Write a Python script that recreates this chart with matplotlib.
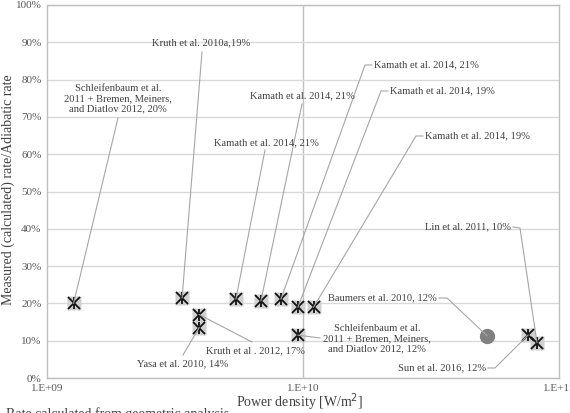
import matplotlib
matplotlib.use("Agg")
import matplotlib.pyplot as plt
from matplotlib.ticker import FixedLocator, FixedFormatter

# ---- data ----
power_density = [1.27e9, 3.37e9, 3.93e9, 3.93e9, 5.47e9, 6.85e9, 8.2e9,
                 9.55e9, 1.1e10, 9.55e9, 7.57e10, 8.2e10]
rate_ratio = [20.0, 21.5, 17.0, 13.5, 21.2, 20.7, 21.2, 19.0, 19.0, 11.5, 11.5, 9.5]
baumers_x = [5.24e10]
baumers_y = [11.3]

labels = [
    "Schleifenbaum et al.\n2011 + Bremen, Meiners,\nand Diatlov 2012, 20%",
    "Kruth et al. 2010a,19%",
    "Kruth et al . 2012, 17%",
    "Yasa et al. 2010, 14%",
    "Kamath et al. 2014, 21%",
    "Kamath et al. 2014, 21%",
    "Kamath et al. 2014, 21%",
    "Kamath et al. 2014, 19%",
    "Kamath et al. 2014, 19%",
    "Schleifenbaum et al.\n2011 + Bremen, Meiners,\nand Diatlov 2012, 12%",
    "Sun et al. 2016, 12%",
    "Lin et al. 2011, 10%",
]
baumers_label = "Baumers et al. 2010, 12%"

y_ticks = [0, 10, 20, 30, 40, 50, 60, 70, 80, 90, 100]
y_ticklabels = [f"{v}%" for v in y_ticks]
x_ticks = [1e9, 1e10, 1e11]
x_ticklabels = ["1.E+09", "1.E+10", "1.E+11"]

# ---- layout (figure pixels, origin top-left) ----
W, H = 570, 413
fig = plt.figure(figsize=(W / 100, H / 100), dpi=100)
L, R, T, B = 47, 559, 5, 378
ax = fig.add_axes([L / W, 1 - B / H, (R - L) / W, (B - T) / H])
ax.set_xscale("log")
ax.set_xlim(1e9, 1e11)
ax.set_ylim(0, 100)

serif = ["Liberation Serif", "DejaVu Serif"]
tc = "#404040"

ax.yaxis.set_major_locator(FixedLocator(y_ticks))
ax.yaxis.set_major_formatter(FixedFormatter(y_ticklabels))
ax.xaxis.set_major_locator(FixedLocator(x_ticks))
ax.xaxis.set_major_formatter(FixedFormatter(x_ticklabels))
ax.xaxis.set_minor_locator(FixedLocator([]))
ax.tick_params(length=0, labelsize=8, labelcolor="#595959", pad=4)
for lab in ax.get_xticklabels() + ax.get_yticklabels():
    lab.set_family(serif)
ax.grid(True, axis="y", color="#d9d9d9", lw=1)
ax.axvline(1e10, color="#bfbfbf", lw=1, zorder=0.5)
for s in ax.spines.values():
    s.set_color("#bfbfbf")
    s.set_linewidth(1)
ax.set_axisbelow(True)

# markers
ax.plot(power_density, rate_ratio, ls="none", marker="s", ms=9.5,
        mfc="#d0d0d0", mec="none", zorder=3)
ax.plot(power_density, rate_ratio, ls="none", marker="x", ms=8,
        mec="#111111", mew=1.3, zorder=4)
ax.plot(power_density, rate_ratio, ls="none", marker="|", ms=9,
        mec="#111111", mew=1.3, zorder=4)
ax.plot(baumers_x, baumers_y, ls="none", marker="o", ms=10,
        mfc="#808080", mec="#808080", zorder=4)


def fp(px, py):
    return (px, H - py)


def leader(xd, yd, pts):
    # pts: list of pixel points (top-left origin); last segment ends at data point
    line_pts = [fp(*p) for p in pts]
    disp = ax.transData.transform((xd, yd))
    xs = [p[0] for p in line_pts] + [disp[0]]
    ys = [p[1] for p in line_pts] + [disp[1]]
    fig.add_artist(plt.Line2D(xs, ys, transform=None, color="#a6a6a6",
                              lw=0.8, zorder=2))


def text(px, py, s, ha="center"):
    fig.text(px / W, 1 - py / H, s, ha=ha, va="center", fontsize=7.6,
             family=serif, color=tc, linespacing=1.15, zorder=6)


# label positions (pixels) and leader paths
text(118, 99, labels[0]);                leader(power_density[0], rate_ratio[0], [(118, 118)])
text(201, 43, labels[1]);                leader(power_density[1], rate_ratio[1], [(202, 52)])
text(255, 351, labels[2]);               leader(power_density[2], rate_ratio[2], [(252, 342)])
text(183, 364, labels[3]);               leader(power_density[3], rate_ratio[3], [(183, 355)])
text(266, 143, labels[4]);               leader(power_density[4], rate_ratio[4], [(265, 150)])
text(302, 96, labels[5]);                leader(power_density[5], rate_ratio[5], [(302, 104)])
text(374, 65, labels[6], ha="left");     leader(power_density[6], rate_ratio[6], [(372, 65), (365, 65)])
text(390, 91, labels[7], ha="left");     leader(power_density[7], rate_ratio[7], [(388, 91), (381, 91)])
text(425, 136, labels[8], ha="left");    leader(power_density[8], rate_ratio[8], [(423, 136), (416, 136)])
text(377, 339, labels[9]);               leader(power_density[9], rate_ratio[9], [(320, 338)])
text(486, 368, labels[10], ha="right");  leader(power_density[10], rate_ratio[10], [(488, 368), (495, 368)])
text(511, 227, labels[11], ha="right");  leader(power_density[11], rate_ratio[11], [(513, 227), (520, 228)])
text(437, 298, baumers_label, ha="right"); leader(baumers_x[0], baumers_y[0], [(439, 298), (447, 298)])

# axis titles
fig.text(300 / W, 1 - 402 / H, "Power density [W/m$^2$]", ha="center", va="center",
         fontsize=10, family=serif, color=tc)
fig.text(8 / W, 1 - 190 / H, "Measured (calculated) rate/Adiabatic rate", ha="center",
         va="center", rotation=90, fontsize=10, family=serif, color=tc)
fig.text(6 / W, 1 - 414 / H, "Rate calculated from geometric analysis", ha="left",
         va="center", fontsize=10, family=serif, color=tc)

fig.savefig("out.png", dpi=100)
